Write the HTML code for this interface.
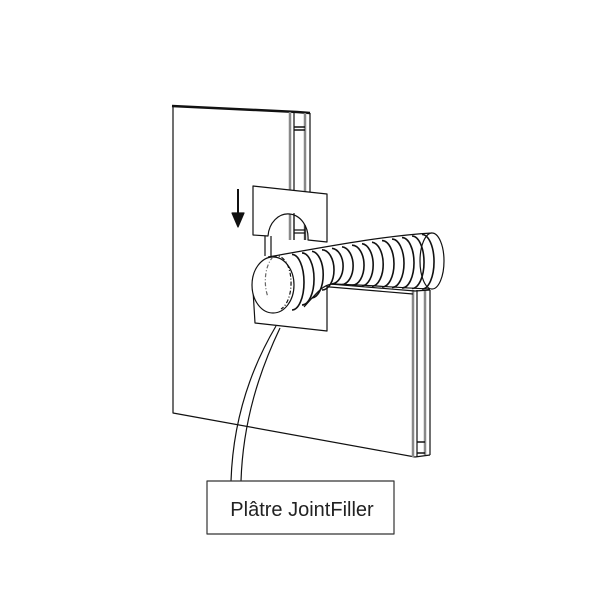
<!DOCTYPE html>
<html><head><meta charset="utf-8"><style>
html,body{margin:0;padding:0;background:#fff;width:600px;height:600px;overflow:hidden}
svg{display:block}
</style></head><body>
<svg width="600" height="600" viewBox="0 0 600 600" xmlns="http://www.w3.org/2000/svg">
<g fill="none" stroke="#111" stroke-width="1.2" stroke-linejoin="round">
<!-- main panel -->
<path d="M173,106 L173,413 L415,457" fill="#fff"/>
<path d="M172,106 L297,112 L310,113" stroke-width="2.5"/>
<!-- upper strips -->
<path d="M290,112 L290,240 M294,112 L294,240 M305,113 L305,240 M310,113 L310,240"/>
<path d="M290,112 L290,240 M305,113 L305,240" stroke="#888" stroke-width="2.5"/>
<path d="M294,127 L305,127 M294,130 L305,130" stroke-width="1.5"/>
<!-- right lower strips -->
<path d="M413,290 L413,457 M417,290 L417,457 M425,290 L425,455 M430,290 L430,455"/>
<path d="M413,290 L413,457 M425,290 L425,455" stroke="#888" stroke-width="2.5"/>
<path d="M417,442 L425,442 M417,453 L425,453" stroke-width="1.5"/>
<path d="M415,457 L430,455"/>
<!-- top edge of right section -->
<path d="M318,283 L415,291 L430,290 M318,286 L413,294" />
<!-- strips between plates -->
<path d="M265,236 L265,256 M271,236 L271,256"/>
<!-- upper plate with notch -->
<path d="M253,186 L327,194 L327,242 L308,240 A20,24 0 0 0 268,236 L253,235 Z" fill="#fff"/>
<path d="M294,213 L294,240 M305,225 L305,240 M294,230 L305,230 M294,233 L305,233"/>
<!-- lower plate -->
<path d="M253,290 L255,323 L327,331 L327,283" fill="#fff"/>
<!-- hose body -->
<path d="M268,257 C320,248 380,236 432,233 L432,289 C390,290 350,284 330,284 C318,290 310,300 300,310 Z" fill="#fff" stroke="none"/>
<path d="M268,257 C320,248 380,236 432,233"/>
<path d="M304,307 C315,295 322,285 332,284 C370,285 400,288 430,289"/>
<ellipse cx="432" cy="261" rx="12" ry="28" fill="#fff"/>
<g stroke-width="1.6">
<path d="M292,254.4 A12,27.8 0 0 1 292,310"/>
<path d="M302,252.9 A12,26 0 0 1 302,305"/>
<path d="M312,251.3 A12,23.4 0 0 1 312,298"/>
<path d="M322,249.8 A12,20.1 0 0 1 322,290"/>
<path d="M332,248.3 A12,17.9 0 0 1 332,284"/>
<path d="M342,246.8 A12,19 0 0 1 342,284.7"/>
<path d="M352,245.2 A12,20 0 0 1 352,285.3"/>
<path d="M362,243.7 A12,21.2 0 0 1 362,286"/>
<path d="M372,242.2 A12,22.2 0 0 1 372,286.5"/>
<path d="M382,240.6 A12,23.2 0 0 1 382,287"/>
<path d="M392,239.1 A12,24.2 0 0 1 392,287.5"/>
<path d="M402,237.6 A12,25.2 0 0 1 402,288"/>
<path d="M412,236 A12,26.2 0 0 1 412,288.5"/>
<path d="M422,234.5 A12,27.2 0 0 1 422,289"/>
</g>
<!-- front ring -->
<ellipse cx="273" cy="285" rx="21" ry="28" fill="#fff"/>
<path d="M273,257 a14,27 0 0 1 8,52" stroke-dasharray="4,2,1,2"/>
<path d="M273,257 a14,27 0 0 0 -5,40" stroke-dasharray="4,2,1,2" stroke="#666"/>
<!-- arrow -->
<path d="M238,189 L238,216" stroke-width="2"/>
<path d="M232,213 L244,213 L238,227 Z" fill="#111"/>
<!-- callout -->
<path d="M276,326 C250,370 233,420 231,481"/>
<path d="M280,328 C260,370 243,420 241,481"/>
<rect x="207" y="481" width="187" height="53" fill="#fff" stroke="#333"/>
</g>
<text x="302" y="516" text-anchor="middle" font-family="Liberation Sans, sans-serif" font-size="20" fill="#222">Plâtre JointFiller</text>
</svg>
</body></html>
